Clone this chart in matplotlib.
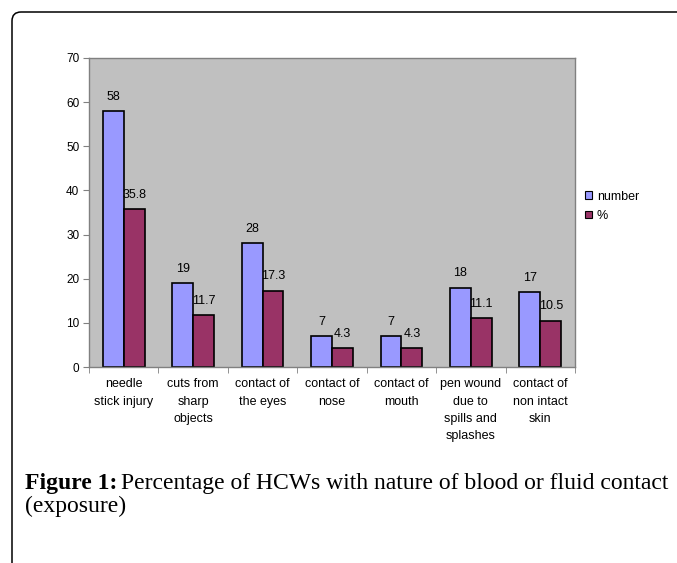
import matplotlib
matplotlib.use("Agg")
import matplotlib.pyplot as plt
from matplotlib.patches import FancyBboxPatch, Patch

categories = ["needle\nstick injury", "cuts from\nsharp\nobjects", "contact of\nthe eyes",
              "contact of\nnose", "contact of\nmouth", "pen wound\ndue to\nspills and\nsplashes",
              "contact of\nnon intact\nskin"]
number = [58, 19, 28, 7, 7, 18, 17]
pct = [35.8, 11.7, 17.3, 4.3, 4.3, 11.1, 10.5]
series_names = ["number", "%"]

plt.rcParams['font.family'] = ['Liberation Sans', 'DejaVu Sans']

fig = plt.figure(figsize=(6.77, 5.63), dpi=100)
ax = fig.add_axes([89/677, 196/563, 486/677, 309/563])
ax.set_facecolor('#C0C0C0')

pos = [i + 0.5 for i in range(len(categories))]
w = 0.30
b1 = ax.bar([p - w/2 for p in pos], number, w, color='#9999FF', edgecolor='black', linewidth=1.2)
b2 = ax.bar([p + w/2 for p in pos], pct, w, color='#993366', edgecolor='black', linewidth=1.2)
ax.bar_label(b1, labels=[str(v) for v in number], padding=6, fontsize=9)
ax.bar_label(b2, labels=[str(v) for v in pct], padding=6, fontsize=9)

ax.set_xlim(0, 7)
ax.set_ylim(0, 70)
ax.set_yticks(range(0, 71, 10))
ax.set_xticks(pos)
ax.set_xticklabels(categories, fontsize=9, linespacing=1.6)
ax.set_xticks(range(0, 8), minor=True)
ax.tick_params(axis='x', which='major', length=0, pad=8)
ax.tick_params(axis='x', which='minor', length=4, color='#808080')
ax.tick_params(axis='y', labelsize=8.5, length=4, color='#808080', pad=3)
for s in ax.spines.values():
    s.set_color('#808080')
    s.set_linewidth(1.0)

handles = [Patch(facecolor='#9999FF', edgecolor='black', linewidth=0.8),
           Patch(facecolor='#993366', edgecolor='black', linewidth=0.8)]
ax.legend(handles, series_names, loc='center left', bbox_to_anchor=(0.997, 0.52),
          frameon=False, fontsize=9, handlelength=0.55, handleheight=0.55,
          handletextpad=0.4, labelspacing=0.6)

# frame around the figure
frame = FancyBboxPatch((12, -60), 800, 563 - 12 + 60, boxstyle="round,pad=0,rounding_size=9",
                       transform=None, facecolor='none', edgecolor='black', linewidth=1.1)
fig.add_artist(frame)

# caption
cap_size = 17
t1 = fig.text(25/677, 1 - 489/563, "Figure 1:", fontsize=cap_size, fontweight='bold',
              family='Liberation Serif', va='baseline')
renderer = fig.canvas.get_renderer()
bb = t1.get_window_extent(renderer)
fig.text(bb.x1/677 + 4/677, 1 - 489/563, "Percentage of HCWs with nature of blood or fluid contact",
         fontsize=cap_size, family='Liberation Serif', va='baseline')
fig.text(25/677, 1 - 512/563, "(exposure)", fontsize=cap_size, family='Liberation Serif', va='baseline')

fig.savefig("out.png", dpi=100)
